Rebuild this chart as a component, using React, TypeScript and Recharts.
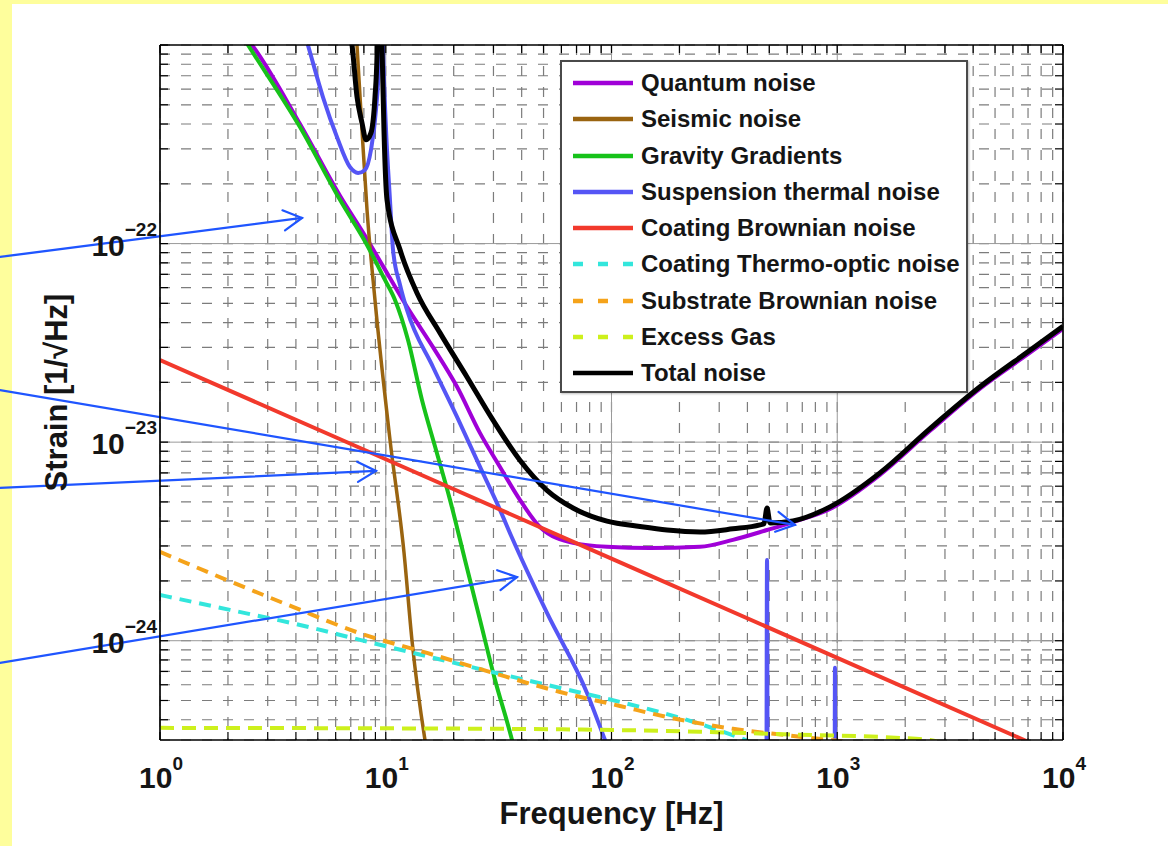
import React from "react";
import {
  LineChart,
  Line,
  XAxis,
  YAxis,
  CartesianGrid,
  Legend,
  ReferenceLine,
  Label,
} from "recharts";

// ── Axis ticks (log-log, MATLAB style grid) ─────────────────────────────────
const X_MAJOR = [1, 10, 100, 1000, 10000];
const X_TICKS = [
  1, 2, 3, 4, 5, 6, 7, 8, 9,
  10, 20, 30, 40, 50, 60, 70, 80, 90,
  100, 200, 300, 400, 500, 600, 700, 800, 900,
  1000, 2000, 3000, 4000, 5000, 6000, 7000, 8000, 9000, 10000,
];
const X_EXP: Record<string, string> = { "1": "0", "10": "1", "100": "2", "1000": "3", "10000": "4" };

const Y_MIN = 3.1623e-25;
const Y_MAX = 1e-21;
const Y_MAJOR = [1e-24, 1e-23, 1e-22];
const Y_TICKS = [
  4e-25, 5e-25, 6e-25, 7e-25, 8e-25, 9e-25,
  1e-24, 2e-24, 3e-24, 4e-24, 5e-24, 6e-24, 7e-24, 8e-24, 9e-24,
  1e-23, 2e-23, 3e-23, 4e-23, 5e-23, 6e-23, 7e-23, 8e-23, 9e-23,
  1e-22, 2e-22, 3e-22, 4e-22, 5e-22, 6e-22, 7e-22, 8e-22, 9e-22, 1e-21,
];
const Y_EXP: Record<string, string> = { "1e-22": "\u221222", "1e-23": "\u221223", "1e-24": "\u221224" };

// ── Noise curves, [frequency Hz, strain 1/√Hz] ─────────────────────────────
const QUANTUM: [number, number][] = [
  [2.26, 1.19e-21], [2.556, 1e-21], [4.17, 4.0e-22], [6.27, 1.74e-22], [8.26, 1.055e-22],
  [9.72, 7.7e-23], [12.42, 4.8e-23], [16.19, 3.01e-23], [20.69, 1.9e-23], [26.16, 1.11e-23],
  [32.07, 7.5e-24], [39.3, 5.12e-24], [48.2, 3.74e-24], [67.5, 3.11e-24], [95.5, 2.97e-24],
  [148, 2.93e-24], [246.6, 2.97e-24], [345, 3.22e-24], [488.6, 3.61e-24], [637, 3.96e-24],
  [929, 4.61e-24], [1546, 6.84e-24], [2576, 1.14e-23], [4290, 1.86e-23], [7142, 2.82e-23],
  [10000, 3.72e-23],
];
const SEISMIC: [number, number][] = [
  [7.3, 1.5e-21], [7.85, 3.73e-22], [8.26, 1.48e-22], [8.96, 5.2e-23], [10.44, 1.03e-23],
  [12.05, 2.77e-24], [13.06, 1.01e-24], [14.92, 3.16e-25], [16, 2e-25],
];
const GRAVITY: [number, number][] = [
  [2.0, 1.45e-21], [2.454, 1e-21], [4.17, 3.86e-22], [6.27, 1.66e-22], [8.26, 9.84e-23],
  [9.92, 6.56e-23], [10.99, 5.2e-23], [12.55, 3.27e-23], [14.47, 1.63e-23], [16.7, 9.13e-24],
  [19.26, 5.12e-24], [22.44, 2.55e-24], [26.16, 1.27e-24], [30.48, 6.35e-25], [36.25, 3.16e-25],
  [42, 1.5e-25],
];
const SUSPENSION: [number, number][] = [
  [4.17, 1.37e-21], [4.52, 1e-21], [5.27, 5.47e-22], [6.08, 3.44e-22], [6.94, 2.43e-22],
  [7.54, 2.27e-22], [8.09, 2.35e-22], [8.6, 2.96e-22], [9.05, 4.71e-22], [9.34, 8.4e-22],
  [9.53, 3e-21], [9.72, 1e-21], [10.03, 3.73e-22], [10.44, 1.66e-22], [10.77, 9.3e-23],
  [11.57, 6.19e-23], [12.42, 4.63e-23], [16.19, 2.39e-23], [20.69, 1.34e-23], [26.16, 7.5e-24],
  [32.07, 4.56e-24], [36.25, 3.3e-24], [51.8, 1.38e-24], [77.9, 5.46e-25], [93.6, 3.16e-25],
  [109, 2e-25], [483, 1e-26], [488.6, 2.55e-24], [494, 1e-26], [970, 1e-26], [977, 7.3e-25],
  [984, 1e-26], [2000, 1e-26],
];
const COATING_BROWNIAN: [number, number][] = [
  [1, 2.59e-23], [10, 8.2e-24], [100, 2.59e-24], [1000, 8.2e-25], [10000, 2.59e-25],
];
const THERMO_OPTIC: [number, number][] = [
  [1, 1.7e-24], [2.04, 1.43e-24], [4.17, 1.2e-24], [7.69, 1.01e-24], [15.7, 8.28e-25],
  [32.07, 6.81e-25], [59.2, 5.78e-25], [109, 4.92e-25], [201, 4.09e-25], [371, 3.24e-25],
  [504, 2.82e-25],
];
const SUBSTRATE: [number, number][] = [
  [1, 2.8e-24], [1.98, 2.02e-24], [3.88, 1.48e-24], [7.69, 1.09e-24], [15.23, 8.68e-25],
  [29.87, 6.89e-25], [59.2, 5.52e-25], [109, 4.69e-25], [176, 4.13e-25], [345, 3.6e-25],
  [684, 3.28e-25], [1261, 2.99e-25], [1896, 2.51e-25],
];
const EXCESS_GAS: [number, number][] = [
  [1, 3.64e-25], [32.07, 3.6e-25], [88.9, 3.56e-25], [246.6, 3.48e-25], [684, 3.36e-25],
  [1896, 3.24e-25], [2711, 3.13e-25], [3497, 2.82e-25],
];
const TOTAL: [number, number][] = [
  [6.8, 1.34e-21], [7.09, 1e-21], [7.46, 5.47e-22], [7.85, 4.05e-22], [8.18, 3.33e-22],
  [8.6, 3.61e-22], [8.96, 5.47e-22], [9.15, 8.9e-22], [9.38, 5e-21], [9.625, 1e-21],
  [9.82, 3.73e-22], [10.13, 1.66e-22], [11.57, 9.3e-23], [13.75, 5.64e-23], [17.39, 3.55e-23],
  [22.9, 2.13e-23], [29.87, 1.29e-23], [39.3, 8.1e-24], [51.8, 5.72e-24], [67.5, 4.66e-24],
  [95.5, 4.0e-24], [133.7, 3.76e-24], [176.1, 3.61e-24], [246.6, 3.53e-24], [345, 3.66e-24],
  [454.8, 3.83e-24], [473.7, 3.88e-24], [488.6, 4.66e-24], [503.6, 3.92e-24], [636.8, 4.01e-24],
  [929, 4.72e-24], [1546, 7.0e-24], [2576, 1.17e-23], [4290, 1.9e-23], [7142, 2.9e-23],
  [10000, 3.83e-23],
];

// annotation arrows drawn over the figure: [start, tip]
const ARROWS: [number, number][][] = [
  [[0.1955, 8.56e-23], [4.256, 1.346e-22]],
  [[0.1955, 1.83e-23], [649.6, 3.83e-24]],
  [[0.1955, 5.88e-24], [9.05, 7.16e-24]],
  [[0.1955, 7.73e-25], [38.14, 2.09e-24]],
];

const LEGEND_ORDER = [
  "Quantum noise",
  "Seismic noise",
  "Gravity Gradients",
  "Suspension thermal noise",
  "Coating Brownian noise",
  "Coating Thermo-optic noise",
  "Substrate Brownian noise",
  "Excess Gas",
  "Total noise",
];
const DASHED = ["Coating Thermo-optic noise", "Substrate Brownian noise", "Excess Gas"];

const toPts = (arr: [number, number][]) => arr.map(([f, h]) => ({ f, h }));

const FONT = '"Liberation Sans", Arial, Helvetica, sans-serif';
const INK = "#151515";

// ── Tick renderers (inward ticks + 10^n labels) ────────────────────────────
function XTickBottom({ x, y, payload }: any) {
  const exp = X_EXP[String(payload.value)];
  return (
    <g>
      <line x1={x} y1={y} x2={x} y2={y - 8} stroke="#000" strokeWidth={1.2} />
      {exp !== undefined && (
        <text x={x + 1} y={y + 48} textAnchor="middle" fontSize={30} fontWeight="bold" fill={INK}>
          10<tspan dy={-18} fontSize={19}>{exp}</tspan>
        </text>
      )}
    </g>
  );
}

function XTickTop({ x, y }: any) {
  return <line x1={x} y1={y} x2={x} y2={y + 8} stroke="#000" strokeWidth={1.2} />;
}

function YTickLeft({ x, y, payload }: any) {
  const exp = Y_EXP[String(payload.value)];
  return (
    <g>
      <line x1={x} y1={y} x2={x + 8} y2={y} stroke="#000" strokeWidth={1.2} />
      {exp !== undefined && (
        <text x={x - 3} y={y + 12} textAnchor="end" fontSize={30} fontWeight="bold" fill={INK}>
          10<tspan dy={-20} fontSize={19}>{exp}</tspan>
        </text>
      )}
    </g>
  );
}

function YTickRight({ x, y }: any) {
  return <line x1={x} y1={y} x2={x - 8} y2={y} stroke="#000" strokeWidth={1.2} />;
}

// open V arrow, coords come from the chart scales
function Arrow({ x1, y1, x2, y2 }: any) {
  const ang = Math.atan2(y2 - y1, x2 - x1);
  const len = 21;
  const spread = 0.5;
  const ax = x2 - len * Math.cos(ang - spread);
  const ay = y2 - len * Math.sin(ang - spread);
  const bx = x2 - len * Math.cos(ang + spread);
  const by = y2 - len * Math.sin(ang + spread);
  return (
    <g stroke="#1f55ff" strokeWidth={2.2} fill="none" strokeLinecap="round">
      <line x1={x1} y1={y1} x2={x2} y2={y2} />
      <polyline points={`${ax},${ay} ${x2},${y2} ${bx},${by}`} />
    </g>
  );
}

function NoiseLegend({ payload }: any) {
  const items = [...(payload || [])].sort(
    (a: any, b: any) => LEGEND_ORDER.indexOf(a.value) - LEGEND_ORDER.indexOf(b.value),
  );
  return (
    <div
      style={{
        width: 408,
        height: 333,
        boxSizing: "border-box",
        border: "2px solid #4a4a4a",
        background: "#fff",
        paddingTop: 3,
        boxShadow: "1px 1px 2px rgba(0,0,0,0.25)",
        fontFamily: FONT,
      }}
    >
      {items.map((entry: any) => (
        <div key={entry.value} style={{ display: "flex", alignItems: "center", height: 36.25 }}>
          <svg width={70} height={10} style={{ marginLeft: 9, flex: "none" }}>
            <line
              x1={2}
              y1={5}
              x2={62}
              y2={5}
              stroke={entry.color}
              strokeWidth={4.5}
              strokeDasharray={DASHED.includes(entry.value) ? "10 15" : undefined}
            />
          </svg>
          <span style={{ fontSize: 24, fontWeight: "bold", color: INK, whiteSpace: "nowrap" }}>
            {entry.value}
          </span>
        </div>
      ))}
    </div>
  );
}

export default function App() {
  return (
    <div
      style={{
        position: "absolute",
        left: 0,
        top: 0,
        width: 1168,
        height: 846,
        background: "#fefe9c",
        overflow: "hidden",
        fontFamily: FONT,
      }}
    >
      <div style={{ position: "absolute", left: 12, top: 4, right: 0, bottom: 0, background: "#fff" }} />
      <div style={{ position: "absolute", left: 0, top: 0 }}>
        <LineChart width={1168} height={846} margin={{ top: 44, right: 104, bottom: 0, left: 0 }}>
          <CartesianGrid stroke="#7c7c7c" strokeWidth={1.2} strokeDasharray="10 11" />
          <CartesianGrid
            stroke="#9a9a9a"
            strokeWidth={1}
            verticalValues={X_MAJOR}
            horizontalValues={Y_MAJOR}
          />
          <XAxis
            dataKey="f"
            type="number"
            scale="log"
            domain={[1, 10000]}
            allowDataOverflow
            ticks={X_TICKS}
            interval={0}
            height={106}
            tickSize={0}
            tickMargin={0}
            tickLine={false}
            axisLine={{ stroke: "#000", strokeWidth: 1.6 }}
            tick={<XTickBottom />}
          >
            <Label
              value="Frequency [Hz]"
              position="insideBottom"
              offset={22}
              style={{ fontSize: 31, fontWeight: "bold", fill: INK }}
            />
          </XAxis>
          <XAxis
            xAxisId="top"
            orientation="top"
            dataKey="f"
            type="number"
            scale="log"
            domain={[1, 10000]}
            allowDataOverflow
            ticks={X_TICKS}
            interval={0}
            height={1}
            tickSize={0}
            tickMargin={0}
            tickLine={false}
            axisLine={{ stroke: "#000", strokeWidth: 1.6 }}
            tick={<XTickTop />}
          />
          <YAxis
            type="number"
            scale="log"
            domain={[Y_MIN, Y_MAX]}
            allowDataOverflow
            ticks={Y_TICKS}
            interval={0}
            width={160}
            tickSize={0}
            tickMargin={0}
            tickLine={false}
            axisLine={{ stroke: "#000", strokeWidth: 1.6 }}
            tick={<YTickLeft />}
          >
            <Label
              content={(props: any) => {
                const vb = props.viewBox || {};
                const cx = 67;
                const cy = vb.height ? vb.y + vb.height / 2 : 392;
                return (
                  <text
                    x={cx}
                    y={cy}
                    transform={`rotate(-90 ${cx} ${cy})`}
                    textAnchor="middle"
                    fontSize={31}
                    fontWeight="bold"
                    fill={INK}
                  >
                    Strain [1/√Hz]
                  </text>
                );
              }}
            />
          </YAxis>
          <YAxis
            yAxisId="right"
            orientation="right"
            type="number"
            scale="log"
            domain={[Y_MIN, Y_MAX]}
            allowDataOverflow
            ticks={Y_TICKS}
            interval={0}
            width={1}
            tickSize={0}
            tickMargin={0}
            tickLine={false}
            axisLine={{ stroke: "#000", strokeWidth: 1.6 }}
            tick={<YTickRight />}
          />

          <Line data={toPts(QUANTUM)} dataKey="h" name="Quantum noise" type="monotone" stroke="#a000d8" strokeWidth={4} dot={false} activeDot={false} isAnimationActive={false} />
          <Line data={toPts(SEISMIC)} dataKey="h" name="Seismic noise" type="monotone" stroke="#9a6410" strokeWidth={3.5} dot={false} activeDot={false} isAnimationActive={false} />
          <Line data={toPts(GRAVITY)} dataKey="h" name="Gravity Gradients" type="monotone" stroke="#17c21a" strokeWidth={4} dot={false} activeDot={false} isAnimationActive={false} />
          <Line data={toPts(SUSPENSION)} dataKey="h" name="Suspension thermal noise" type="monotone" stroke="#5555f5" strokeWidth={4} dot={false} activeDot={false} isAnimationActive={false} />
          <Line data={toPts(COATING_BROWNIAN)} dataKey="h" name="Coating Brownian noise" type="linear" stroke="#f2392c" strokeWidth={4} dot={false} activeDot={false} isAnimationActive={false} />
          <Line data={toPts(THERMO_OPTIC)} dataKey="h" name="Coating Thermo-optic noise" type="monotone" stroke="#33e6dc" strokeWidth={4} strokeDasharray="12 8" dot={false} activeDot={false} isAnimationActive={false} />
          <Line data={toPts(SUBSTRATE)} dataKey="h" name="Substrate Brownian noise" type="monotone" stroke="#f5a31a" strokeWidth={4} strokeDasharray="12 8" dot={false} activeDot={false} isAnimationActive={false} />
          <Line data={toPts(EXCESS_GAS)} dataKey="h" name="Excess Gas" type="monotone" stroke="#cdf01c" strokeWidth={4} strokeDasharray="14 8" dot={false} activeDot={false} isAnimationActive={false} />
          <Line data={toPts(TOTAL)} dataKey="h" name="Total noise" type="monotone" stroke="#000" strokeWidth={5} dot={false} activeDot={false} isAnimationActive={false} />

          {ARROWS.map((seg, i) => (
            <ReferenceLine
              key={i}
              segment={seg.map(([f, h]) => ({ x: f, y: h }))}
              ifOverflow="visible"
              shape={<Arrow />}
            />
          ))}

          <Legend
            layout="horizontal"
            verticalAlign="middle"
            align="center"
            itemSorter={(item: any) => LEGEND_ORDER.indexOf(item.value)}
            wrapperStyle={{ left: 560, top: 60, width: 408 }}
            content={<NoiseLegend />}
          />
        </LineChart>
      </div>
    </div>
  );
}
